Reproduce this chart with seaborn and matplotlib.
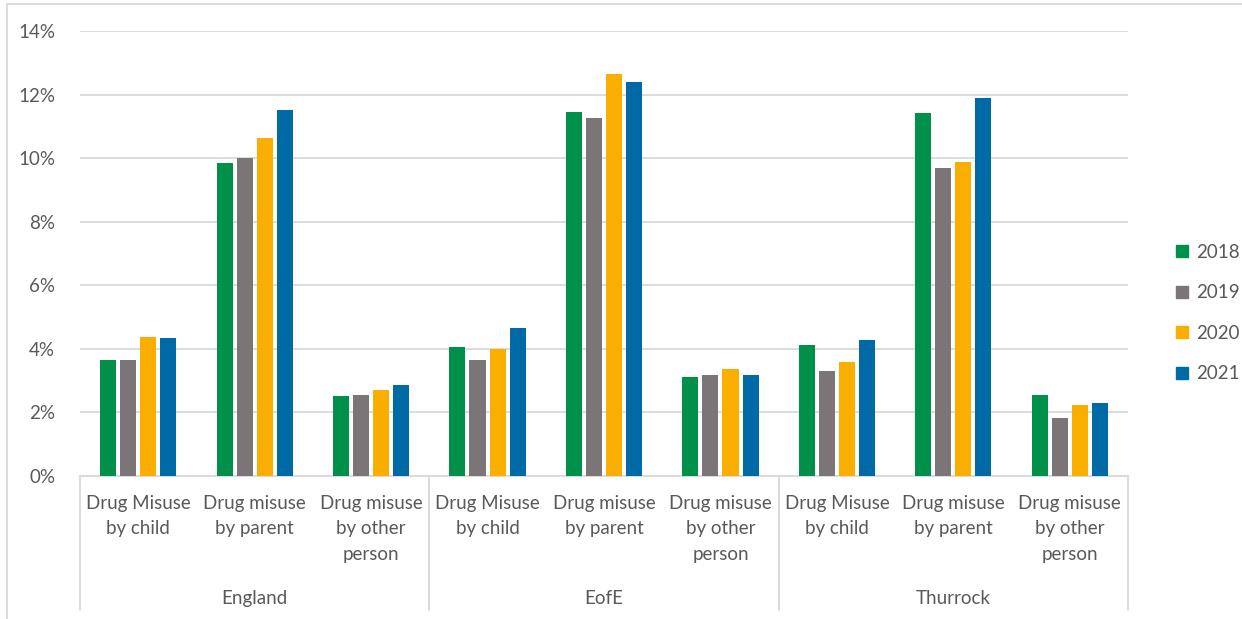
import matplotlib
matplotlib.use("Agg")
import matplotlib.pyplot as plt
import seaborn as sns
import pandas as pd
from matplotlib.lines import Line2D
from matplotlib.ticker import FuncFormatter

regions = ["England", "EofE", "Thurrock"]
categories = ["Drug Misuse\nby child", "Drug misuse\nby parent", "Drug misuse\nby other\nperson"]
years = ["2018", "2019", "2020", "2021"]

# values in % : [region][category] for each year
v2018 = [3.65, 9.86, 2.52, 4.05, 11.46, 3.11, 4.13, 11.43, 2.55]
v2019 = [3.65, 10.02, 2.55, 3.64, 11.26, 3.17, 3.31, 9.69, 1.83]
v2020 = [4.37, 10.63, 2.71, 4.01, 12.64, 3.37, 3.58, 9.87, 2.22]
v2021 = [4.33, 11.52, 2.87, 4.65, 12.38, 3.19, 4.28, 11.89, 2.29]

colors = ["#00904A", "#7B7577", "#F9AE00", "#006AA7"]
txt = "#595959"
grid = "#D9D9D9"

rows = []
keys = []
for ri, r in enumerate(regions):
    for ci, c in enumerate(categories):
        keys.append(f"{r}|{c}")
for y, vals in zip(years, [v2018, v2019, v2020, v2021]):
    for k, v in zip(keys, vals):
        rows.append({"key": k, "year": y, "value": v})
df = pd.DataFrame(rows)

sns.set_theme(style="white")
plt.rcParams["font.family"] = ["Lato", "DejaVu Sans"]

fig = plt.figure(figsize=(12.42, 6.19), dpi=100)
ax = fig.add_axes([80 / 1242, 1 - 476 / 619, (1128 - 80) / 1242, (476 - 31) / 619])

sns.barplot(data=df, x="key", y="value", hue="year", order=keys, hue_order=years,
            palette=colors, width=0.69, gap=0.2, ax=ax, legend=False,
            saturation=1, edgecolor="none", zorder=3)

ax.set_ylim(0, 14)
ax.set_xlim(-0.5, len(keys) - 0.5)
ax.set_yticks(range(0, 15, 2))
ax.yaxis.set_major_formatter(FuncFormatter(lambda v, p: f"{int(v)}%"))
ax.yaxis.grid(True, color=grid, linewidth=1.3, zorder=0)
ax.set_axisbelow(True)
for s in ["top", "right", "left"]:
    ax.spines[s].set_visible(False)
ax.spines["bottom"].set_color(grid)
ax.spines["bottom"].set_linewidth(1.3)
ax.tick_params(axis="y", length=0, labelsize=13.5, labelcolor=txt, pad=18)
ax.tick_params(axis="x", length=0)
ax.set_xticks(range(len(keys)))
ax.set_xticklabels([])
ax.set_xlabel("")
ax.set_ylabel("")

# category labels
for i, k in enumerate(keys):
    cat = k.split("|")[1]
    ax.annotate(cat, xy=(i, 0), xycoords=("data", "axes fraction"),
                xytext=(0, -19), textcoords="offset pixels",
                ha="center", va="top", fontsize=13.5, color=txt,
                linespacing=1.6, annotation_clip=False)
# region labels
for ri, r in enumerate(regions):
    ax.annotate(r, xy=(ri * 3 + 1, 0), xycoords=("data", "axes fraction"),
                xytext=(0, -114), textcoords="offset pixels",
                ha="center", va="top", fontsize=13.5, color=txt,
                annotation_clip=False)
# separators
for b in [-0.5, 2.5, 5.5, 8.5]:
    ax.add_line(Line2D([b, b], [0, -134 / 445], transform=ax.get_xaxis_transform(),
                       color=grid, linewidth=1.3, clip_on=False))

# legend
handles = [Line2D([], [], marker="s", linestyle="none", markersize=9,
                  markerfacecolor=c, markeredgecolor=c) for c in colors]
fig.legend(handles, years, loc="center left", bbox_to_anchor=(1158 / 1242, 1 - 313 / 619),
           frameon=False, fontsize=13.5, labelcolor=txt, labelspacing=1.25,
           handlelength=0.8, handletextpad=0.35)

# chart frame (top and left visible)
fig.add_artist(Line2D([7 / 1242, 1], [1 - 4 / 619, 1 - 4 / 619], transform=fig.transFigure,
                      color=grid, linewidth=1.3))
fig.add_artist(Line2D([7 / 1242, 7 / 1242], [0, 1 - 4 / 619], transform=fig.transFigure,
                      color=grid, linewidth=1.3))

fig.savefig("out.png", dpi=100, facecolor="white")
